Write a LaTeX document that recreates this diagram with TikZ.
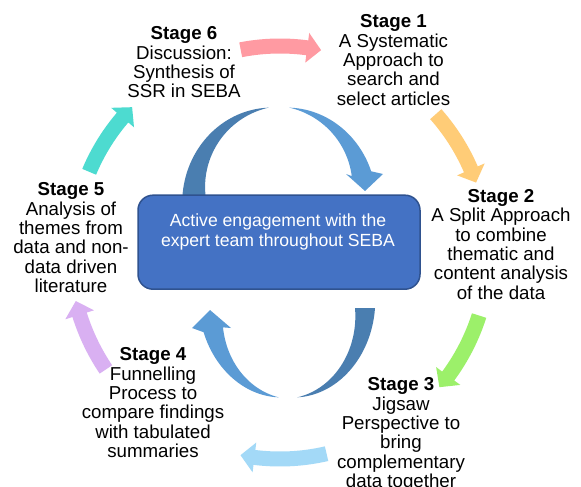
\documentclass[tikz,border=0pt]{standalone}
\usepackage{fontspec}
\setmainfont{Liberation Sans}
\definecolor{boxfill}{HTML}{4472C4}
\definecolor{boxline}{HTML}{2F528F}
\definecolor{arcdark}{HTML}{4A7EB0}
\definecolor{arclight}{HTML}{5B9BD5}
\definecolor{cpink}{HTML}{FF9AA2}
\definecolor{corange}{HTML}{FFCC77}
\definecolor{cgreen}{HTML}{9CF06A}
\definecolor{cblue}{HTML}{A3D9F7}
\definecolor{clav}{HTML}{D9B0F2}
\definecolor{ccyan}{HTML}{4DDBD0}
\newcommand{\cyclearrow}[4]{% color, start angle, tip angle, radius
  \pgfmathsetmacro\hb{#3-3.9}
  \pgfmathsetmacro\ro{#4+7.5}
  \pgfmathsetmacro\ri{#4-7.5}
  \pgfmathsetmacro\hro{#4+15}
  \pgfmathsetmacro\hri{#4-15}
  \fill[#1] plot[domain=#2:\hb,samples=30] ({280+\ro*cos(\x)},{252+\ro*sin(\x)})
    -- ({280+\hro*cos(\hb)},{252+\hro*sin(\hb)})
    -- ({280+#4*cos(#3)},{252+#4*sin(#3)})
    -- ({280+\hri*cos(\hb)},{252+\hri*sin(\hb)})
    -- plot[domain=\hb:#2,samples=30] ({280+\ri*cos(\x)},{252+\ri*sin(\x)}) -- cycle;
}
\tikzset{
  stagetxt/.style={align=center, inner sep=0pt, anchor=north, font=\fontsize{18.7}{19.4}\selectfont},
  boxtxt/.style={align=center, inner sep=0pt, anchor=north, text=white, font=\fontsize{17.6}{19.3}\selectfont},
  centerbox/.style={draw=boxline, line width=1.5pt, fill=boxfill, rounded corners=15pt, minimum width=282pt, minimum height=94pt, inner sep=0pt}
}
\begin{document}
\begin{tikzpicture}[x=1pt,y=-1pt]
\useasboundingbox (0,0) rectangle (581,487);
\fill[white] (0,0) rectangle (581,487);

% outer cycle arrows
\cyclearrow{cpink}{259}{281.5}{206}
\cyclearrow{corange}{318.5}{340.5}{208}
\cyclearrow{cgreen}{17.7}{40.3}{209}
\cyclearrow{cblue}{77}{101}{207}
\cyclearrow{clav}{146}{166.5}{210}
\cyclearrow{ccyan}{202.8}{224.4}{207}

% top inner circular arrow
\fill[arcdark] plot[domain=97:180,samples=40] ({279+(85+11.5*(\x-97)/83)*cos(\x)},{195-(88+11.5*(\x-97)/83)*sin(\x)})
  -- plot[domain=180:97,samples=40] ({279+(85-11.5*(\x-97)/83)*cos(\x)},{195-(88-11.5*(\x-97)/83)*sin(\x)}) -- cycle;
\fill[arclight] plot[domain=83:14,samples=40] ({279+(85+10*(83-\x)/69)*cos(\x)},{195-(88+10*(83-\x)/69)*sin(\x)})
  -- (383,174) -- (365,191) -- (346,174)
  -- plot[domain=14:83,samples=40] ({279+(85-10*(83-\x)/69)*cos(\x)},{195-(88-10*(83-\x)/69)*sin(\x)}) -- cycle;

% bottom inner circular arrow
\fill[arcdark] plot[domain=0:-83,samples=40] ({288+(77+10*(\x+83)/83)*cos(\x)},{308-(90+10*(\x+83)/83)*sin(\x)})
  -- plot[domain=-83:0,samples=40] ({288+(77-10*(\x+83)/83)*cos(\x)},{308-(90-10*(\x+83)/83)*sin(\x)}) -- cycle;
\fill[arclight] plot[domain=-97:-166,samples=40] ({288+(77+10*(-97-\x)/69)*cos(\x)},{308-(90+10*(-97-\x)/69)*sin(\x)})
  -- (192,328) -- (210,310) -- (231,328)
  -- plot[domain=-166:-97,samples=40] ({288+(77-10*(-97-\x)/69)*cos(\x)},{308-(90-10*(-97-\x)/69)*sin(\x)}) -- cycle;

% central box
\node[centerbox] (box) at (279,242.2) {};
\node[boxtxt] (boxtext) at (278,214) {Active engagement with the\\expert team throughout SEBA};

% stage texts
\node[stagetxt] (s1) at (393.5,14.4) {\textbf{Stage 1}\\A Systematic\\Approach to\\search and\\select articles};
\node[stagetxt] (s2) at (501,189) {\textbf{Stage 2}\\A Split Approach\\to combine\\thematic and\\content analysis\\of the data};
\node[stagetxt] (s3) at (401,377.5) {\textbf{Stage 3}\\Jigsaw\\Perspective to\\bring\\complementary\\data together};
\node[stagetxt] (s4) at (153,347.5) {\textbf{Stage 4}\\Funnelling\\Process to\\compare findings\\with tabulated\\summaries};
\node[stagetxt] (s5) at (71,182.5) {\textbf{Stage 5}\\Analysis of\\themes from\\data and non-\\data driven\\literature};
\node[stagetxt] (s6) at (184,26.4) {\textbf{Stage 6}\\Discussion:\\Synthesis of\\SSR in SEBA};
\end{tikzpicture}
\end{document}
